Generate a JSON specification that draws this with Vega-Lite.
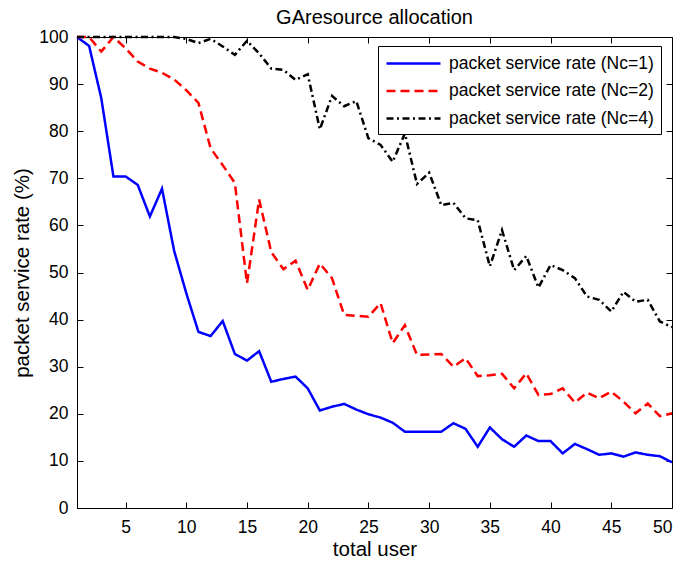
{
  "$schema": "https://vega.github.io/schema/vega-lite/v6.json",
  "width": 595,
  "height": 471,
  "autosize": {"type": "none"},
  "padding": {"left": 77, "top": 37, "right": 12, "bottom": 53},
  "background": "white",
  "config": {
    "font": "Liberation Sans",
    "view": {"stroke": "black", "strokeWidth": 1},
    "axis": {
      "grid": false,
      "domainColor": "black",
      "domainWidth": 1,
      "tickColor": "black",
      "tickSize": -6,
      "labelColor": "black",
      "labelFont": "Liberation Sans",
      "labelFontSize": 17.5,
      "titleFont": "Liberation Sans",
      "titleFontSize": 20.5,
      "titleFontWeight": "normal",
      "titleColor": "black"
    }
  },
  "title": {
    "text": "GAresource allocation",
    "fontSize": 20,
    "fontWeight": "normal",
    "font": "Liberation Sans",
    "color": "black",
    "offset": 0
  },
  "data": {
    "values": [
      {"x": 1, "v": 100, "s": "packet service rate (Nc=1)"},
      {"x": 2, "v": 98.1, "s": "packet service rate (Nc=1)"},
      {"x": 3, "v": 87, "s": "packet service rate (Nc=1)"},
      {"x": 4, "v": 70.4, "s": "packet service rate (Nc=1)"},
      {"x": 5, "v": 70.4, "s": "packet service rate (Nc=1)"},
      {"x": 6, "v": 68.6, "s": "packet service rate (Nc=1)"},
      {"x": 7, "v": 61.9, "s": "packet service rate (Nc=1)"},
      {"x": 8, "v": 67.8, "s": "packet service rate (Nc=1)"},
      {"x": 9, "v": 54.6, "s": "packet service rate (Nc=1)"},
      {"x": 10, "v": 45.6, "s": "packet service rate (Nc=1)"},
      {"x": 11, "v": 37.4, "s": "packet service rate (Nc=1)"},
      {"x": 12, "v": 36.5, "s": "packet service rate (Nc=1)"},
      {"x": 13, "v": 39.7, "s": "packet service rate (Nc=1)"},
      {"x": 14, "v": 32.7, "s": "packet service rate (Nc=1)"},
      {"x": 15, "v": 31.3, "s": "packet service rate (Nc=1)"},
      {"x": 16, "v": 33.3, "s": "packet service rate (Nc=1)"},
      {"x": 17, "v": 26.8, "s": "packet service rate (Nc=1)"},
      {"x": 18, "v": 27.4, "s": "packet service rate (Nc=1)"},
      {"x": 19, "v": 27.9, "s": "packet service rate (Nc=1)"},
      {"x": 20, "v": 25.4, "s": "packet service rate (Nc=1)"},
      {"x": 21, "v": 20.7, "s": "packet service rate (Nc=1)"},
      {"x": 22, "v": 21.5, "s": "packet service rate (Nc=1)"},
      {"x": 23, "v": 22.1, "s": "packet service rate (Nc=1)"},
      {"x": 24, "v": 20.9, "s": "packet service rate (Nc=1)"},
      {"x": 25, "v": 19.9, "s": "packet service rate (Nc=1)"},
      {"x": 26, "v": 19.2, "s": "packet service rate (Nc=1)"},
      {"x": 27, "v": 18.1, "s": "packet service rate (Nc=1)"},
      {"x": 28, "v": 16.2, "s": "packet service rate (Nc=1)"},
      {"x": 29, "v": 16.2, "s": "packet service rate (Nc=1)"},
      {"x": 30, "v": 16.2, "s": "packet service rate (Nc=1)"},
      {"x": 31, "v": 16.2, "s": "packet service rate (Nc=1)"},
      {"x": 32, "v": 18, "s": "packet service rate (Nc=1)"},
      {"x": 33, "v": 16.8, "s": "packet service rate (Nc=1)"},
      {"x": 34, "v": 13, "s": "packet service rate (Nc=1)"},
      {"x": 35, "v": 17.1, "s": "packet service rate (Nc=1)"},
      {"x": 36, "v": 14.6, "s": "packet service rate (Nc=1)"},
      {"x": 37, "v": 13, "s": "packet service rate (Nc=1)"},
      {"x": 38, "v": 15.4, "s": "packet service rate (Nc=1)"},
      {"x": 39, "v": 14.2, "s": "packet service rate (Nc=1)"},
      {"x": 40, "v": 14.2, "s": "packet service rate (Nc=1)"},
      {"x": 41, "v": 11.6, "s": "packet service rate (Nc=1)"},
      {"x": 42, "v": 13.6, "s": "packet service rate (Nc=1)"},
      {"x": 43, "v": 12.5, "s": "packet service rate (Nc=1)"},
      {"x": 44, "v": 11.3, "s": "packet service rate (Nc=1)"},
      {"x": 45, "v": 11.6, "s": "packet service rate (Nc=1)"},
      {"x": 46, "v": 10.9, "s": "packet service rate (Nc=1)"},
      {"x": 47, "v": 11.8, "s": "packet service rate (Nc=1)"},
      {"x": 48, "v": 11.3, "s": "packet service rate (Nc=1)"},
      {"x": 49, "v": 11, "s": "packet service rate (Nc=1)"},
      {"x": 50, "v": 9.7, "s": "packet service rate (Nc=1)"},
      {"x": 1, "v": 100, "s": "packet service rate (Nc=2)"},
      {"x": 2, "v": 100, "s": "packet service rate (Nc=2)"},
      {"x": 3, "v": 96.9, "s": "packet service rate (Nc=2)"},
      {"x": 4, "v": 100, "s": "packet service rate (Nc=2)"},
      {"x": 5, "v": 97.6, "s": "packet service rate (Nc=2)"},
      {"x": 6, "v": 94.8, "s": "packet service rate (Nc=2)"},
      {"x": 7, "v": 93.3, "s": "packet service rate (Nc=2)"},
      {"x": 8, "v": 92.4, "s": "packet service rate (Nc=2)"},
      {"x": 9, "v": 91, "s": "packet service rate (Nc=2)"},
      {"x": 10, "v": 88.7, "s": "packet service rate (Nc=2)"},
      {"x": 11, "v": 86, "s": "packet service rate (Nc=2)"},
      {"x": 12, "v": 76.4, "s": "packet service rate (Nc=2)"},
      {"x": 13, "v": 72.8, "s": "packet service rate (Nc=2)"},
      {"x": 14, "v": 69, "s": "packet service rate (Nc=2)"},
      {"x": 15, "v": 47.7, "s": "packet service rate (Nc=2)"},
      {"x": 16, "v": 65.5, "s": "packet service rate (Nc=2)"},
      {"x": 17, "v": 54.3, "s": "packet service rate (Nc=2)"},
      {"x": 18, "v": 50.7, "s": "packet service rate (Nc=2)"},
      {"x": 19, "v": 52.5, "s": "packet service rate (Nc=2)"},
      {"x": 20, "v": 46.3, "s": "packet service rate (Nc=2)"},
      {"x": 21, "v": 51.9, "s": "packet service rate (Nc=2)"},
      {"x": 22, "v": 48.8, "s": "packet service rate (Nc=2)"},
      {"x": 23, "v": 41, "s": "packet service rate (Nc=2)"},
      {"x": 24, "v": 40.8, "s": "packet service rate (Nc=2)"},
      {"x": 25, "v": 40.6, "s": "packet service rate (Nc=2)"},
      {"x": 26, "v": 43.5, "s": "packet service rate (Nc=2)"},
      {"x": 27, "v": 35, "s": "packet service rate (Nc=2)"},
      {"x": 28, "v": 38.8, "s": "packet service rate (Nc=2)"},
      {"x": 29, "v": 32.5, "s": "packet service rate (Nc=2)"},
      {"x": 30, "v": 32.6, "s": "packet service rate (Nc=2)"},
      {"x": 31, "v": 32.7, "s": "packet service rate (Nc=2)"},
      {"x": 32, "v": 30, "s": "packet service rate (Nc=2)"},
      {"x": 33, "v": 31.8, "s": "packet service rate (Nc=2)"},
      {"x": 34, "v": 28, "s": "packet service rate (Nc=2)"},
      {"x": 35, "v": 28.2, "s": "packet service rate (Nc=2)"},
      {"x": 36, "v": 28.5, "s": "packet service rate (Nc=2)"},
      {"x": 37, "v": 25.4, "s": "packet service rate (Nc=2)"},
      {"x": 38, "v": 28.6, "s": "packet service rate (Nc=2)"},
      {"x": 39, "v": 24, "s": "packet service rate (Nc=2)"},
      {"x": 40, "v": 24.2, "s": "packet service rate (Nc=2)"},
      {"x": 41, "v": 25.4, "s": "packet service rate (Nc=2)"},
      {"x": 42, "v": 22.4, "s": "packet service rate (Nc=2)"},
      {"x": 43, "v": 24.5, "s": "packet service rate (Nc=2)"},
      {"x": 44, "v": 23.3, "s": "packet service rate (Nc=2)"},
      {"x": 45, "v": 24.7, "s": "packet service rate (Nc=2)"},
      {"x": 46, "v": 22.6, "s": "packet service rate (Nc=2)"},
      {"x": 47, "v": 20.1, "s": "packet service rate (Nc=2)"},
      {"x": 48, "v": 22.2, "s": "packet service rate (Nc=2)"},
      {"x": 49, "v": 19.5, "s": "packet service rate (Nc=2)"},
      {"x": 50, "v": 20.1, "s": "packet service rate (Nc=2)"},
      {"x": 1, "v": 100, "s": "packet service rate (Nc=4)"},
      {"x": 2, "v": 100, "s": "packet service rate (Nc=4)"},
      {"x": 3, "v": 100, "s": "packet service rate (Nc=4)"},
      {"x": 4, "v": 100, "s": "packet service rate (Nc=4)"},
      {"x": 5, "v": 100, "s": "packet service rate (Nc=4)"},
      {"x": 6, "v": 100, "s": "packet service rate (Nc=4)"},
      {"x": 7, "v": 100, "s": "packet service rate (Nc=4)"},
      {"x": 8, "v": 100, "s": "packet service rate (Nc=4)"},
      {"x": 9, "v": 100, "s": "packet service rate (Nc=4)"},
      {"x": 10, "v": 99.6, "s": "packet service rate (Nc=4)"},
      {"x": 11, "v": 98.7, "s": "packet service rate (Nc=4)"},
      {"x": 12, "v": 99.6, "s": "packet service rate (Nc=4)"},
      {"x": 13, "v": 98, "s": "packet service rate (Nc=4)"},
      {"x": 14, "v": 96.2, "s": "packet service rate (Nc=4)"},
      {"x": 15, "v": 99.2, "s": "packet service rate (Nc=4)"},
      {"x": 16, "v": 96.5, "s": "packet service rate (Nc=4)"},
      {"x": 17, "v": 93.3, "s": "packet service rate (Nc=4)"},
      {"x": 18, "v": 93, "s": "packet service rate (Nc=4)"},
      {"x": 19, "v": 90.9, "s": "packet service rate (Nc=4)"},
      {"x": 20, "v": 92.1, "s": "packet service rate (Nc=4)"},
      {"x": 21, "v": 80.4, "s": "packet service rate (Nc=4)"},
      {"x": 22, "v": 87.5, "s": "packet service rate (Nc=4)"},
      {"x": 23, "v": 85.3, "s": "packet service rate (Nc=4)"},
      {"x": 24, "v": 86.4, "s": "packet service rate (Nc=4)"},
      {"x": 25, "v": 78.5, "s": "packet service rate (Nc=4)"},
      {"x": 26, "v": 77.1, "s": "packet service rate (Nc=4)"},
      {"x": 27, "v": 73.5, "s": "packet service rate (Nc=4)"},
      {"x": 28, "v": 79.5, "s": "packet service rate (Nc=4)"},
      {"x": 29, "v": 68.8, "s": "packet service rate (Nc=4)"},
      {"x": 30, "v": 71.2, "s": "packet service rate (Nc=4)"},
      {"x": 31, "v": 64.3, "s": "packet service rate (Nc=4)"},
      {"x": 32, "v": 64.8, "s": "packet service rate (Nc=4)"},
      {"x": 33, "v": 61.5, "s": "packet service rate (Nc=4)"},
      {"x": 34, "v": 61.1, "s": "packet service rate (Nc=4)"},
      {"x": 35, "v": 51.3, "s": "packet service rate (Nc=4)"},
      {"x": 36, "v": 59, "s": "packet service rate (Nc=4)"},
      {"x": 37, "v": 50.5, "s": "packet service rate (Nc=4)"},
      {"x": 38, "v": 53.5, "s": "packet service rate (Nc=4)"},
      {"x": 39, "v": 46.8, "s": "packet service rate (Nc=4)"},
      {"x": 40, "v": 51.6, "s": "packet service rate (Nc=4)"},
      {"x": 41, "v": 50.5, "s": "packet service rate (Nc=4)"},
      {"x": 42, "v": 48.8, "s": "packet service rate (Nc=4)"},
      {"x": 43, "v": 44.9, "s": "packet service rate (Nc=4)"},
      {"x": 44, "v": 44.2, "s": "packet service rate (Nc=4)"},
      {"x": 45, "v": 41.7, "s": "packet service rate (Nc=4)"},
      {"x": 46, "v": 45.9, "s": "packet service rate (Nc=4)"},
      {"x": 47, "v": 43.8, "s": "packet service rate (Nc=4)"},
      {"x": 48, "v": 44.2, "s": "packet service rate (Nc=4)"},
      {"x": 49, "v": 39.6, "s": "packet service rate (Nc=4)"},
      {"x": 50, "v": 38.4, "s": "packet service rate (Nc=4)"}
    ]
  },
  "layer": [
    {
      "mark": {"type": "line", "strokeWidth": 2.5, "strokeCap": "butt", "strokeJoin": "miter"},
      "encoding": {
        "x": {
          "field": "x", "type": "quantitative",
          "scale": {"domain": [1, 50], "nice": false, "zero": false},
          "axis": {"values": [5, 10, 15, 20, 25, 30, 35, 40, 45, 50], "title": "total user", "labelPadding": 16, "titlePadding": 4}
        },
        "y": {
          "field": "v", "type": "quantitative",
          "scale": {"domain": [0, 100], "nice": false},
          "axis": {"values": [0, 10, 20, 30, 40, 50, 60, 70, 80, 90, 100], "title": "packet service rate (%)", "labelPadding": 15, "titlePadding": 6}
        },
        "color": {
          "field": "s", "type": "nominal",
          "scale": {"range": ["#0000ff", "#ff0000", "#000000"]},
          "legend": {
            "orient": "none", "legendX": 301, "legendY": 9,
            "title": null,
            "strokeColor": "black", "fillColor": "white",
            "padding": 7,
            "symbolType": "M-3,0H3", "symbolSize": 324, "symbolStrokeWidth": 2.5,
            "symbolOffset": 18,
            "labelFont": "Liberation Sans", "labelFontSize": 17.5, "labelColor": "black",
            "labelOffset": 25, "rowPadding": 8.5, "labelLimit": 400
          }
        },
        "strokeDash": {
          "field": "s", "type": "nominal",
          "scale": {"range": [[1, 0], [9, 5], [7, 3.5, 2, 3.5]]},
          "legend": null
        }
      }
    },
    {
      "mark": {"type": "line", "opacity": 0},
      "encoding": {
        "x": {"field": "x", "type": "quantitative", "axis": {"orient": "top", "values": [5, 10, 15, 20, 25, 30, 35, 40, 45, 50], "labels": false, "title": null, "domain": false}},
        "y": {"field": "v", "type": "quantitative", "axis": {"orient": "right", "values": [0, 10, 20, 30, 40, 50, 60, 70, 80, 90, 100], "labels": false, "title": null, "domain": false}},
        "detail": {"field": "s"}
      }
    }
  ],
  "resolve": {"axis": {"x": "independent", "y": "independent"}}
}
